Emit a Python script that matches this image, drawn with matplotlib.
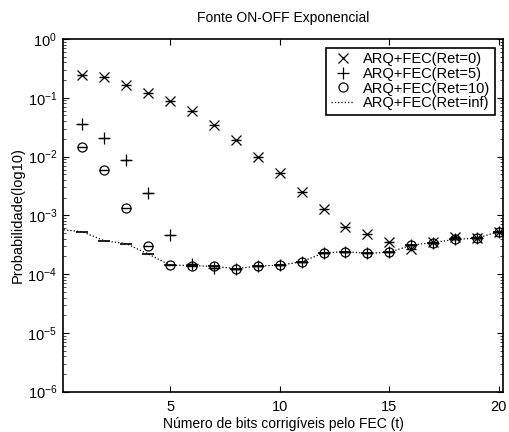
import matplotlib
matplotlib.use("Agg")
import matplotlib.pyplot as plt
from matplotlib.ticker import LogLocator, FixedLocator, NullFormatter

plt.rcParams['font.family'] = ['Liberation Sans', 'DejaVu Sans']
plt.rcParams['mathtext.fontset'] = 'custom'
plt.rcParams['mathtext.rm'] = 'Liberation Sans'
plt.rcParams['mathtext.it'] = 'Liberation Sans'

t = list(range(1, 21))
t_inf = list(range(0, 21))

ret0 = [0.243, 0.222, 0.162, 0.122, 0.089, 0.059, 0.035, 0.019, 0.0099, 0.0053,
        0.0025, 0.00127, 6.3e-4, 4.9e-4, 3.5e-4, 2.65e-4, 3.55e-4, 4.2e-4, 4.1e-4, 5.2e-4]
ret5 = [0.0356, 0.0211, 0.0089, 0.00238, 4.56e-4, 1.48e-4, 1.25e-4, 1.2e-4, 1.37e-4, 1.42e-4,
        1.62e-4, 2.3e-4, 2.4e-4, 2.27e-4, 2.35e-4, 3.1e-4, 3.45e-4, 3.9e-4, 4.1e-4, 5.3e-4]
ret10 = [0.0143, 0.00585, 0.00133, 3.0e-4, 1.42e-4, 1.4e-4, 1.35e-4, 1.2e-4, 1.37e-4, 1.42e-4,
         1.62e-4, 2.3e-4, 2.4e-4, 2.27e-4, 2.35e-4, 3.15e-4, 3.45e-4, 3.9e-4, 4.1e-4, 5.3e-4]
retinf = [5.75e-4, 5.25e-4, 3.7e-4, 3.3e-4, 2.2e-4, 1.42e-4, 1.4e-4, 1.35e-4, 1.24e-4, 1.37e-4,
          1.42e-4, 1.62e-4, 2.3e-4, 2.4e-4, 2.27e-4, 2.35e-4, 3.1e-4, 3.45e-4, 3.9e-4, 4.1e-4, 5.3e-4]

labels = ['ARQ+FEC(Ret=0)', 'ARQ+FEC(Ret=5)', 'ARQ+FEC(Ret=10)', 'ARQ+FEC(Ret=inf)']
title = 'Fonte ON-OFF Exponencial'
xlabel = 'Número de bits corrigíveis pelo FEC (t)'
ylabel = 'Probabilidade(log10)'
xticks = [5, 10, 15, 20]

fig = plt.figure(figsize=(5.09, 4.32), dpi=100)
ax = fig.add_axes([0.1232, 0.0933, 0.8656, 0.8164])

ax.plot(t, ret0, linestyle='none', marker='x', color='black', markersize=7, mew=0.9, label=labels[0])
ax.plot(t, ret5, linestyle='none', marker='+', color='black', markersize=8, mew=0.9, label=labels[1])
ax.plot(t, ret10, linestyle='none', marker='o', color='black', markersize=6.5, mew=0.9,
        markerfacecolor='none', label=labels[2])
ax.plot(t_inf, retinf, linestyle=':', color='black', linewidth=0.9, label=labels[3])
# horizontal strokes seen through every marker
for ys in (ret0, ret5, ret10):
    ax.plot(t, ys, linestyle='none', marker='_', color='black', markersize=7, mew=1.0)
ax.plot(t_inf[1:], retinf[1:], linestyle='none', marker='_', color='black', markersize=8, mew=1.2)

ax.set_yscale('log')
ax.set_ylim(1e-6, 1)
ax.set_xlim(0.1, 20.2)
ax.xaxis.set_major_locator(FixedLocator(xticks))
ax.yaxis.set_major_locator(LogLocator(base=10, numticks=10))
ax.yaxis.set_minor_locator(LogLocator(base=10, subs=range(2, 10), numticks=20))
ax.yaxis.set_minor_formatter(NullFormatter())
ax.tick_params(which='both', direction='in', top=True, right=True, labelsize=10.5)
ax.tick_params(axis='x', pad=6)
ax.tick_params(axis='y', pad=4)
ax.tick_params(which='major', length=4, width=0.8)
ax.tick_params(which='minor', length=2, width=0.5)
for s in ax.spines.values():
    s.set_linewidth(1.2)

ax.set_title(title, fontsize=10, pad=12)
ax.set_xlabel(xlabel, fontsize=10, labelpad=2)
ax.set_ylabel(ylabel, fontsize=10.5, labelpad=2)

leg = ax.legend(loc='upper right', fontsize=10.5, frameon=True, fancybox=False,
                edgecolor='black', framealpha=1, handlelength=1.6, handletextpad=0.6,
                labelspacing=0.05, borderpad=0.3, borderaxespad=0.6)
leg.get_frame().set_linewidth(1.2)

fig.savefig('out.png', dpi=100)
